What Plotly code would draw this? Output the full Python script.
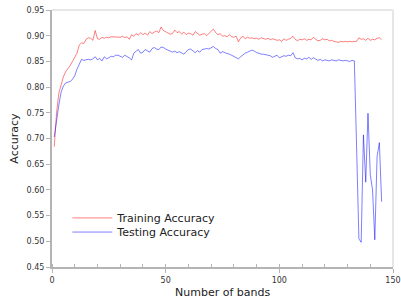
import plotly.graph_objects as go

bands = list(range(1, 146))

train_acc = [
    0.684, 0.750, 0.788, 0.805, 0.820, 0.830, 0.835, 0.842, 0.850, 0.858,
    0.866, 0.882, 0.886, 0.885, 0.893, 0.896, 0.895, 0.891, 0.910, 0.894,
    0.893, 0.897, 0.895, 0.897, 0.896, 0.898, 0.898, 0.897, 0.898, 0.897,
    0.899, 0.896, 0.898, 0.893, 0.902, 0.899, 0.904, 0.901, 0.906, 0.902,
    0.905, 0.901, 0.908, 0.904, 0.907, 0.909, 0.906, 0.917, 0.910, 0.908,
    0.906, 0.903, 0.904, 0.911, 0.906, 0.908, 0.903, 0.907, 0.902, 0.905,
    0.904, 0.901, 0.908, 0.905, 0.901, 0.903, 0.904, 0.900, 0.905, 0.909,
    0.913, 0.906, 0.902, 0.904, 0.899, 0.900, 0.898, 0.902, 0.898, 0.897,
    0.899, 0.888, 0.896, 0.899, 0.894, 0.897, 0.895, 0.896, 0.894, 0.895,
    0.893, 0.896, 0.894, 0.893, 0.895, 0.892, 0.894, 0.893, 0.891, 0.892,
    0.889, 0.894, 0.891, 0.893, 0.895, 0.899, 0.893, 0.890, 0.893, 0.892,
    0.894, 0.891, 0.893, 0.892, 0.897, 0.893, 0.890, 0.891, 0.894, 0.892,
    0.893, 0.890, 0.891, 0.889, 0.888, 0.887, 0.889, 0.888, 0.889, 0.888,
    0.889, 0.888, 0.889, 0.889, 0.896, 0.893, 0.894, 0.891, 0.895, 0.891,
    0.893, 0.892, 0.895, 0.896, 0.892,
]

test_acc = [
    0.703, 0.740, 0.765, 0.790, 0.802, 0.808, 0.810, 0.811, 0.815, 0.822,
    0.835, 0.846, 0.854, 0.852, 0.853, 0.854, 0.853, 0.855, 0.859, 0.853,
    0.856, 0.851, 0.859, 0.855, 0.857, 0.860, 0.859, 0.862, 0.862, 0.860,
    0.858, 0.862, 0.860, 0.857, 0.853, 0.866, 0.870, 0.873, 0.866, 0.868,
    0.873, 0.870, 0.868, 0.875, 0.877, 0.874, 0.873, 0.878, 0.877, 0.874,
    0.872, 0.871, 0.868, 0.870, 0.867, 0.869, 0.866, 0.864, 0.869, 0.873,
    0.874, 0.871, 0.867, 0.871, 0.868, 0.873, 0.874, 0.875, 0.874, 0.876,
    0.879, 0.875, 0.873, 0.866, 0.869, 0.867, 0.866, 0.864, 0.862, 0.860,
    0.858, 0.855, 0.859, 0.863, 0.866, 0.868, 0.870, 0.872, 0.870, 0.867,
    0.866, 0.864, 0.864, 0.863, 0.862, 0.861, 0.858, 0.860, 0.862, 0.857,
    0.859, 0.861, 0.860, 0.862, 0.861, 0.867, 0.857, 0.855, 0.856, 0.853,
    0.856, 0.855, 0.858, 0.854, 0.857, 0.855, 0.852, 0.854, 0.851, 0.853,
    0.852, 0.851, 0.853, 0.852, 0.851, 0.853, 0.852, 0.851, 0.852, 0.851,
    0.850, 0.852, 0.851, 0.680, 0.505, 0.498, 0.707, 0.615, 0.749, 0.630,
    0.600, 0.503, 0.665, 0.692, 0.577,
]

x_ticks = [0, 50, 100, 150]
y_ticks = [0.45, 0.50, 0.55, 0.60, 0.65, 0.70, 0.75, 0.80, 0.85, 0.90, 0.95]

FONT = "DejaVu Sans"
TXT = "#222222"

fig = go.Figure()
fig.add_trace(go.Scatter(
    x=bands, y=train_acc, mode="lines", name="Training Accuracy",
    line=dict(color="rgba(255,0,0,0.5)", width=1), legend="legend",
))
fig.add_trace(go.Scatter(
    x=bands, y=test_acc, mode="lines", name="Testing Accuracy",
    line=dict(color="rgba(0,0,255,0.5)", width=1), legend="legend2",
))

axis_common = dict(
    showgrid=False, zeroline=False, showline=True, automargin=False,
    linecolor="#b4b4b4", linewidth=2,
    ticks="outside", ticklen=4, tickcolor="#b4b4b4", tickwidth=1,
    tickfont=dict(family=FONT, size=8, color="#333333"),
)

legend_common = dict(
    xanchor="left", yanchor="middle",
    bgcolor="rgba(0,0,0,0)", borderwidth=0,
    font=dict(family=FONT, size=11, color=TXT),
    itemwidth=40,
)

fig.update_layout(
    width=401, height=298,
    margin=dict(l=52, r=8, t=10, b=31, autoexpand=False),
    paper_bgcolor="white", plot_bgcolor="white",
    font=dict(family=FONT, color=TXT),
    showlegend=True,
    legend=dict(x=0.045, y=0.191, **legend_common),
    legend2=dict(x=0.045, y=0.136, **legend_common),
    xaxis=dict(
        range=[0, 150], tickvals=x_ticks,
        ticktext=[str(v) for v in x_ticks],
        minor=dict(dtick=10, tick0=0, ticks="inside", ticklen=3,
                   tickcolor="#b4b4b4", tickwidth=1),
        **axis_common,
    ),
    yaxis=dict(
        range=[0.45, 0.95], tickvals=y_ticks,
        ticktext=[f"{v:.2f}" for v in y_ticks],
        **axis_common,
    ),
    annotations=[
        dict(text="Number of bands", xref="paper", yref="paper",
             x=0.5, y=-0.101, xanchor="center", yanchor="middle",
             showarrow=False, font=dict(family=FONT, size=11, color=TXT)),
        dict(text="Accuracy", xref="paper", yref="paper",
             x=-0.111, y=0.5, xanchor="center", yanchor="middle",
             textangle=-90, showarrow=False,
             font=dict(family=FONT, size=11, color=TXT)),
    ],
    shapes=[
        dict(type="line", xref="paper", yref="paper", x0=0, x1=1, y0=1, y1=1,
             line=dict(color="#e6e6e6", width=2)),
        dict(type="line", xref="paper", yref="paper", x0=1, x1=1, y0=0, y1=1,
             line=dict(color="#e6e6e6", width=2)),
    ],
)

fig.write_html("out.html",
               config={"displayModeBar": False},
               post_script="document.body.style.margin='0px';")
